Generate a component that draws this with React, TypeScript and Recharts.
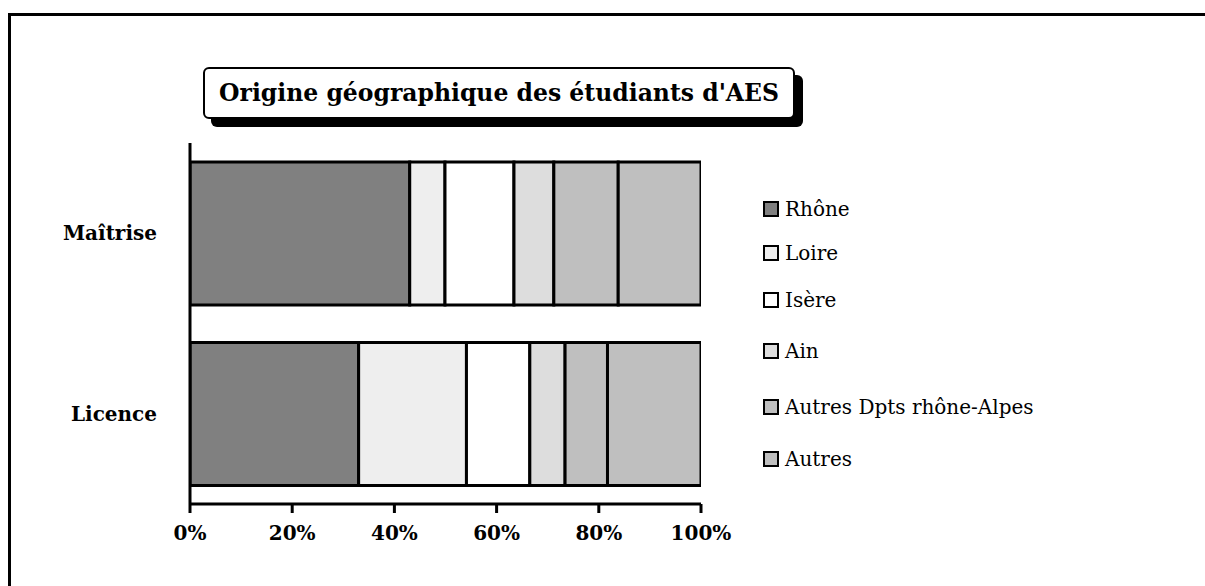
import { BarChart, Bar, XAxis, YAxis } from 'recharts';

const categories = ['Maîtrise', 'Licence'];
const seriesNames = ['Rhône', 'Loire', 'Isère', 'Ain', 'Autres Dpts rhône-Alpes', 'Autres'];
const rhone = [43.0, 33.0];
const loire = [6.9, 21.1];
const isere = [13.5, 12.4];
const ain = [7.8, 6.9];
const autresDpts = [12.6, 8.3];
const autres = [16.2, 18.3];
const xTicks = [0, 20, 40, 60, 80, 100];

const seriesValues = [rhone, loire, isere, ain, autresDpts, autres];
const fills = ['#808080', '#eeeeee', '#ffffff', '#dddddd', '#bfbfbf', '#bfbfbf'];
// legend rows are not evenly spaced in the original
const legendGaps = [0, 44, 47, 51, 56, 52];

const data = categories.map((cat, i) => {
  const row: Record<string, string | number> = { cat };
  seriesNames.forEach((name, s) => {
    row[name] = seriesValues[s][i];
  });
  return row;
});

const FONT = '"DejaVu Serif", serif';
const ROW_H = 24;

const CategoryTick = (props: any) => {
  const { x, y, payload } = props;
  return (
    <text
      x={x - 25}
      y={y}
      dy="0.35em"
      textAnchor="end"
      fontFamily={FONT}
      fontWeight="bold"
      fontSize={20}
      fill="#000"
    >
      {payload.value}
    </text>
  );
};

const LegendBox = () => (
  <div
    style={{
      position: 'absolute',
      left: 763,
      top: 209 - ROW_H / 2,
      fontFamily: FONT,
      fontSize: 20,
      color: '#000',
    }}
  >
    {seriesNames.map((name, i) => (
      <div
        key={name}
        style={{
          display: 'flex',
          alignItems: 'center',
          marginTop: i === 0 ? 0 : legendGaps[i] - ROW_H,
          height: ROW_H,
          whiteSpace: 'nowrap',
        }}
      >
        <span
          style={{
            display: 'inline-block',
            width: 12,
            height: 12,
            border: '2px solid #000',
            background: fills[i],
            marginRight: 6,
          }}
        />
        {name}
      </div>
    ))}
  </div>
);

const App = () => {
  return (
    <div
      style={{
        position: 'absolute',
        left: 0,
        top: 0,
        width: 1205,
        height: 586,
        overflow: 'hidden',
        background: '#fff',
      }}
    >
      <div
        style={{
          position: 'absolute',
          left: 8,
          top: 13,
          width: 1400,
          height: 800,
          border: '3px solid #000',
        }}
      />
      <BarChart
        width={1205}
        height={586}
        data={data}
        layout="vertical"
        barCategoryGap="10.5%"
        margin={{ top: 143, right: 504, bottom: 42, left: 0 }}
        style={{ position: 'absolute', left: 0, top: 0 }}
      >
        <XAxis
          type="number"
          domain={[0, 100]}
          ticks={xTicks}
          tickFormatter={(v) => `${v}%`}
          axisLine={{ stroke: '#000', strokeWidth: 3 }}
          tickLine={{ stroke: '#000', strokeWidth: 3 }}
          tickSize={9}
          tickMargin={13}
          height={40}
          tick={{ fill: '#000', fontFamily: FONT, fontWeight: 'bold', fontSize: 20 }}
          allowDataOverflow
        />
        <YAxis
          type="category"
          dataKey="cat"
          width={190}
          axisLine={{ stroke: '#000', strokeWidth: 3 }}
          tickLine={false}
          tick={<CategoryTick />}
        />
        {seriesNames.map((name, i) => (
          <Bar
            key={name}
            dataKey={name}
            stackId="a"
            fill={fills[i]}
            stroke="#000"
            strokeWidth={3}
            isAnimationActive={false}
          />
        ))}
      </BarChart>
      <LegendBox />
      <div
        style={{
          position: 'absolute',
          left: 203,
          top: 67,
          width: 592,
          height: 52,
          boxSizing: 'border-box',
          border: '2px solid #000',
          borderRadius: 6,
          boxShadow: '8px 8px 0 #000',
          background: '#fff',
          fontFamily: FONT,
          fontWeight: 'bold',
          fontSize: 23.5,
          display: 'flex',
          alignItems: 'center',
          justifyContent: 'center',
          whiteSpace: 'nowrap',
        }}
      >
        Origine géographique des étudiants d'AES
      </div>
    </div>
  );
};

export default App;
